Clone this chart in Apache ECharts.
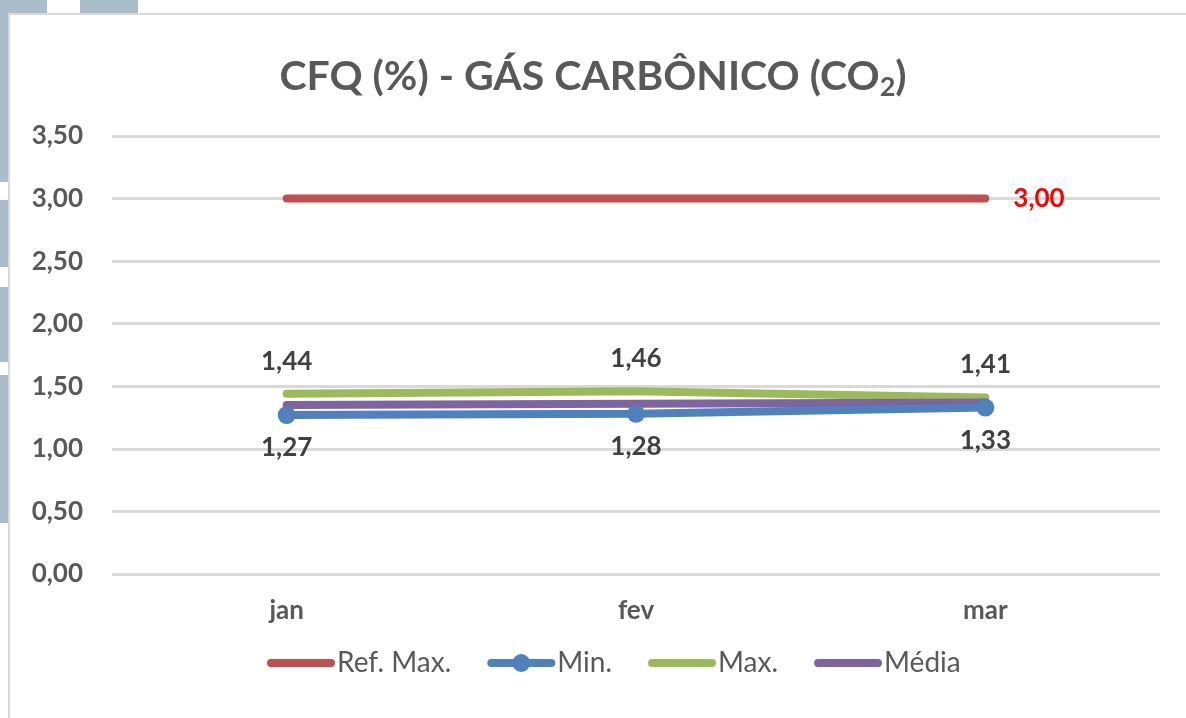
<!DOCTYPE html>
<html>
<head>
<meta charset="utf-8">
<script src="https://cdn.jsdelivr.net/npm/echarts@6/dist/echarts.min.js"></script>
<style>
html,body{margin:0;padding:0;background:#fff;}
#c{width:1186px;height:718px;}
</style>
</head>
<body>
<div id="c"></div>
<script>
var categories = ['jan', 'fev', 'mar'];
var refMax = [3.00, 3.00, 3.00];
var minVals = [1.27, 1.28, 1.33];
var maxVals = [1.44, 1.46, 1.41];
var mediaVals = [1.35, 1.36, 1.37];
var yTicks = [0, 0.5, 1, 1.5, 2, 2.5, 3, 3.5];

var FONT = 'Lato';
var fmt = function (v) { return v.toFixed(2).replace('.', ','); };

var BAR_ICON = 'path://M0,0 L0,0 Z M4,5 L64,5 A4,4 0 0 1 64,13 L4,13 A4,4 0 0 1 4,5 Z M68,18 L68,18 Z';
var DOT_ICON = 'path://M0,0 L0,0 Z M4,5 L64,5 A4,4 0 0 1 64,13 L4,13 A4,4 0 0 1 4,5 Z M34,0 A9,9 0 1 1 34,18 A9,9 0 1 1 34,0 Z M68,18 L68,18 Z';

var chart = echarts.init(document.getElementById('c'));
var option = {
  backgroundColor: '#ffffff',
  animation: false,
  title: {
    text: '{t|CFQ (%) - GÁS CARBÔNICO (CO}{s|2}{t|)}',
    left: 'center',
    top: 47,
    textStyle: {
      rich: {
        t: { fontFamily: FONT, fontWeight: 'bold', fontSize: 41, color: '#595959' },
        s: { fontFamily: FONT, fontWeight: 'bold', fontSize: 27, color: '#595959', verticalAlign: 'bottom', padding: [22, 0, 0, 0] }
      }
    }
  },
  graphic: [
    { type: 'rect', shape: { x: 0, y: 0, width: 47, height: 13 }, style: { fill: '#A9BDCB' } },
    { type: 'rect', shape: { x: 80, y: 0, width: 58, height: 13 }, style: { fill: '#A9BDCB' } },
    { type: 'rect', shape: { x: 0, y: 0, width: 8, height: 182 }, style: { fill: '#A9BDCB' } },
    { type: 'rect', shape: { x: 0, y: 200, width: 8, height: 67 }, style: { fill: '#A9BDCB' } },
    { type: 'rect', shape: { x: 0, y: 287, width: 8, height: 75 }, style: { fill: '#A9BDCB' } },
    { type: 'rect', shape: { x: 0, y: 375, width: 8, height: 148 }, style: { fill: '#A9BDCB' } },
    { type: 'rect', shape: { x: 8, y: 13, width: 1180, height: 2 }, style: { fill: '#D9D9D9' } },
    { type: 'rect', shape: { x: 8, y: 13, width: 2, height: 710 }, style: { fill: '#D9D9D9' } }
  ],
  legend: {
    top: 644,
    left: 262,
    itemWidth: 68,
    itemHeight: 18,
    itemGap: 36,
    symbolKeepAspect: false,
    textStyle: { fontFamily: FONT, fontSize: 28, color: '#595959', padding: [0, 0, 0, -3] },
    data: [
      { name: 'Ref. Max.', icon: BAR_ICON, itemStyle: { color: '#C0504D' } },
      { name: 'Min.', icon: DOT_ICON, itemStyle: { color: '#4F81BD' } },
      { name: 'Max.', icon: BAR_ICON, itemStyle: { color: '#9BBB59' } },
      { name: 'Média', icon: BAR_ICON, itemStyle: { color: '#8064A2' } }
    ]
  },
  grid: { left: 112, right: 26, top: 136, bottom: 144 },
  xAxis: {
    type: 'category',
    data: categories,
    boundaryGap: true,
    axisLine: { show: false },
    axisTick: { show: false },
    axisLabel: { fontFamily: FONT, fontWeight: 'bold', fontSize: 26, color: '#595959', margin: 24 }
  },
  yAxis: {
    type: 'value',
    min: yTicks[0],
    max: yTicks[yTicks.length - 1],
    interval: 0.5,
    axisLine: { show: false },
    axisTick: { show: false },
    splitLine: { lineStyle: { color: '#D9D9D9', width: 3 } },
    axisLabel: { fontFamily: FONT, fontWeight: 'bold', fontSize: 26, color: '#595959', margin: 29, formatter: fmt }
  },
  series: [
    {
      name: 'Ref. Max.', type: 'line', data: refMax, symbol: 'circle', symbolSize: 1, z: 2,
      lineStyle: { color: '#C0504D', width: 8, cap: 'round' },
      itemStyle: { color: '#C0504D' },
      label: { show: false },
      endLabel: {
        show: true, distance: 28, fontFamily: FONT, fontWeight: 'bold', fontSize: 26, color: '#FF0000',
        formatter: function (p) { return fmt(p.value); }
      }
    },
    {
      name: 'Min.', type: 'line', data: minVals, symbol: 'circle', symbolSize: 18, z: 5,
      lineStyle: { color: '#4F81BD', width: 8, cap: 'round' },
      itemStyle: { color: '#4F81BD' },
      label: {
        show: true, position: 'bottom', distance: 11, fontFamily: FONT, fontWeight: 'bold', fontSize: 26, color: '#404040',
        formatter: function (p) { return fmt(p.value); }
      }
    },
    {
      name: 'Max.', type: 'line', data: maxVals, symbol: 'circle', symbolSize: 1, z: 3,
      lineStyle: { color: '#9BBB59', width: 8, cap: 'round' },
      itemStyle: { color: '#9BBB59' },
      label: {
        show: true, position: 'top', distance: 19, fontFamily: FONT, fontWeight: 'bold', fontSize: 26, color: '#404040',
        formatter: function (p) { return fmt(p.value); }
      }
    },
    {
      name: 'Média', type: 'line', data: mediaVals, symbol: 'circle', symbolSize: 1, z: 4,
      lineStyle: { color: '#8064A2', width: 8, cap: 'round' },
      itemStyle: { color: '#8064A2' },
      label: { show: false }
    }
  ]
};
chart.setOption(option);
</script>
</body>
</html>
